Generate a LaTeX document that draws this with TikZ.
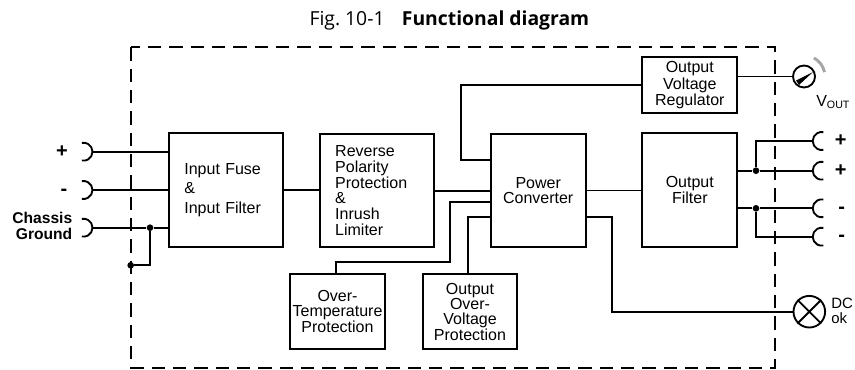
\documentclass[tikz,border=0pt]{standalone}
\usepackage{fontspec}
\setmainfont{Liberation Sans}
\newfontfamily\captionfont{Open Sans}
\usepackage{tikz}

\tikzset{
  blk/.style={draw, line width=1.4pt, inner sep=0pt, align=center, font=\fontsize{12}{11.6}\selectfont},
  wire/.style={line width=1.4pt},
  jdot/.style={circle, fill, inner sep=0pt, minimum size=5pt},
  lbl/.style={inner sep=0.75pt, font=\bfseries\fontsize{15}{15}\selectfont},
}

\begin{document}
\begin{tikzpicture}[x=0.75pt,y=0.75pt,yscale=-1,xscale=1]
\path[use as bounding box] (0,0) rectangle (855,370);

% Title
\node[anchor=base west, inner sep=0pt, font=\captionfont\fontsize{14.5}{17}\selectfont] (title) at (309.3,25.3) {Fig.~10-1\hspace{13pt}\textbf{Functional diagram}};

%Shape: Rectangle (housing)
\draw[line width=1.4pt, dash pattern=on 10pt off 6pt] (130.7,47.3) rectangle (775,367.7);

% Blocks
\node[blk, minimum width=85.5pt, minimum height=85pt, text width=62pt, inner xsep=11.75pt, align=left, font=\fontsize{12}{14.5}\selectfont] (infil) at (225.7,190) {Input Fuse\\\&\\Input Filter};
\node[blk, minimum width=85.5pt, minimum height=85pt, text width=63pt, inner xsep=11.25pt, align=left, font=\fontsize{12}{11.8}\selectfont] (revpol) at (377.2,190.6) {Reverse\\Polarity\\Protection\\\&\\Inrush\\Limiter};
\node[blk, minimum width=71.25pt, minimum height=84.75pt] (pconv) at (538.2,190.5) {Power\\Converter};
\node[blk, minimum width=71.25pt, minimum height=85pt] (ofilt) at (689.8,190) {Output\\Filter};
\node[blk, minimum width=71.25pt, minimum height=42pt, font=\fontsize{12}{12.2}\selectfont] (vreg) at (689.8,85.3) {Output\\Voltage\\Regulator};
\node[blk, minimum width=71.25pt, minimum height=56.5pt, font=\fontsize{12}{11}\selectfont] (otemp) at (337.5,311.7) {Over-\\Temperature\\Protection};
\node[blk, minimum width=71pt, minimum height=56.5pt, font=\fontsize{12}{10.7}\selectfont] (ovolt) at (470,311.7) {Output\\Over-\\Voltage\\Protection};

% Input jacks
\coordinate (jin1) at (92.5,151.7);
\coordinate (jin2) at (92.5,190);
\coordinate (jin3) at (92.5,227.7);
\draw[wire] (jin1) arc[start angle=0, end angle=100, radius=6.75pt] (jin1) arc[start angle=0, end angle=-100, radius=6.75pt];
\draw[wire] (jin2) arc[start angle=0, end angle=100, radius=6.75pt] (jin2) arc[start angle=0, end angle=-100, radius=6.75pt];
\draw[wire] (jin3) arc[start angle=0, end angle=100, radius=6.75pt] (jin3) arc[start angle=0, end angle=-100, radius=6.75pt];

% Output jacks
\coordinate (jout1) at (812.7,141);
\coordinate (jout2) at (812.7,170.7);
\coordinate (jout3) at (812.7,208.3);
\coordinate (jout4) at (812.7,236.7);
\draw[wire] (jout1) arc[start angle=180, end angle=80, radius=6.75pt] (jout1) arc[start angle=180, end angle=280, radius=6.75pt];
\draw[wire] (jout2) arc[start angle=180, end angle=80, radius=6.75pt] (jout2) arc[start angle=180, end angle=280, radius=6.75pt];
\draw[wire] (jout3) arc[start angle=180, end angle=80, radius=6.75pt] (jout3) arc[start angle=180, end angle=280, radius=6.75pt];
\draw[wire] (jout4) arc[start angle=180, end angle=80, radius=6.75pt] (jout4) arc[start angle=180, end angle=280, radius=6.75pt];

% Junctions
\node[jdot] (gnd1) at (150,227.7) {};
\node[jdot] (gnd2) at (130.7,265.3) {};
\node[jdot] (dplus) at (756,170.7) {};
\node[jdot] (dminus) at (756,208.3) {};

% Bends
\coordinate (bvreg) at (460.7,160);
\coordinate (btemp1) at (336,261.7);
\coordinate (btemp2) at (450,201.7);
\coordinate (bovolt) at (468.3,216.7);
\coordinate (bdcok) at (612.3,216.7);

% Meter and lamp
\node[circle, draw, line width=1.4pt, minimum size=16.5pt, inner sep=0pt] (vmeter) at (804,76.5) {};
\fill ([shift={(-8,4)}]vmeter.center) -- ([shift={(-5,8.5)}]vmeter.center) -- ([shift={(9,-4.5)}]vmeter.center) -- cycle;
\draw[gray!70, line width=2.2pt] ([shift={(-62:21)}]vmeter.center) arc[start angle=-62, end angle=-12, radius=21];
\node[circle, draw, line width=1.4pt, minimum size=23.7pt, inner sep=0pt] (lamp) at (809.3,311.7) {};
\draw[wire] (lamp.north west) -- (lamp.south east) (lamp.north east) -- (lamp.south west);

% Wires
\draw[wire] (jin1) -- (infil.west |- jin1);
\draw[wire] (jin2) -- (infil.west |- jin2);
\draw[wire] (jin3) -- (gnd1) -- (infil.west |- jin3);
\draw[wire] (gnd1) |- (gnd2);
\draw[wire] (infil.east) -- (infil.east -| revpol.west);
\draw[wire] (revpol.east) -- (revpol.east -| pconv.west);
\draw[wire] (pconv.east) -- (pconv.east -| ofilt.west);
\draw[wire] (vreg.west) -| (bvreg) -- (bvreg -| pconv.west);
\draw[wire] (otemp.north -| btemp1) -- (btemp1) -| (btemp2) -- (btemp2 -| pconv.west);
\draw[wire] (ovolt.north -| bovolt) -- (bovolt) -- (bovolt -| pconv.west);
\draw[wire] (bdcok -| pconv.east) -- (bdcok) |- (lamp.west);
\draw[wire] (vreg.east |- vmeter.west) -- (vmeter.west);
\draw[wire] (ofilt.east |- dplus) -- (dplus) -- (jout2);
\draw[wire] (dplus) |- (jout1);
\draw[wire] (ofilt.east |- dminus) -- (dminus) -- (jout3);
\draw[wire] (dminus) |- (jout4);

% Text Node
\node[lbl] (inplus) at (62,151.7) {+};
\node[lbl] (inminus) at (64,192.5) {-};
\node[lbl, anchor=east, align=right, font=\bfseries\fontsize{11.7}{12}\selectfont] (chassis) at (73.5,226.3) {Chassis\\Ground};
\node[lbl] (outplus1) at (840.7,141) {+};
\node[lbl] (outplus2) at (840.7,170.7) {+};
\node[lbl] (outminus1) at (841.7,210) {-};
\node[lbl] (outminus2) at (841.7,238.5) {-};
\node[anchor=base west, inner sep=0pt, font=\fontsize{12}{13}\selectfont] (vout) at (816,106.5) {V\textsubscript{OUT}};
\node[anchor=west, align=left, inner sep=0pt, font=\fontsize{11.2}{11.2}\selectfont] (dcok) at (831,310.5) {DC\\ok};
\end{tikzpicture}
\end{document}
